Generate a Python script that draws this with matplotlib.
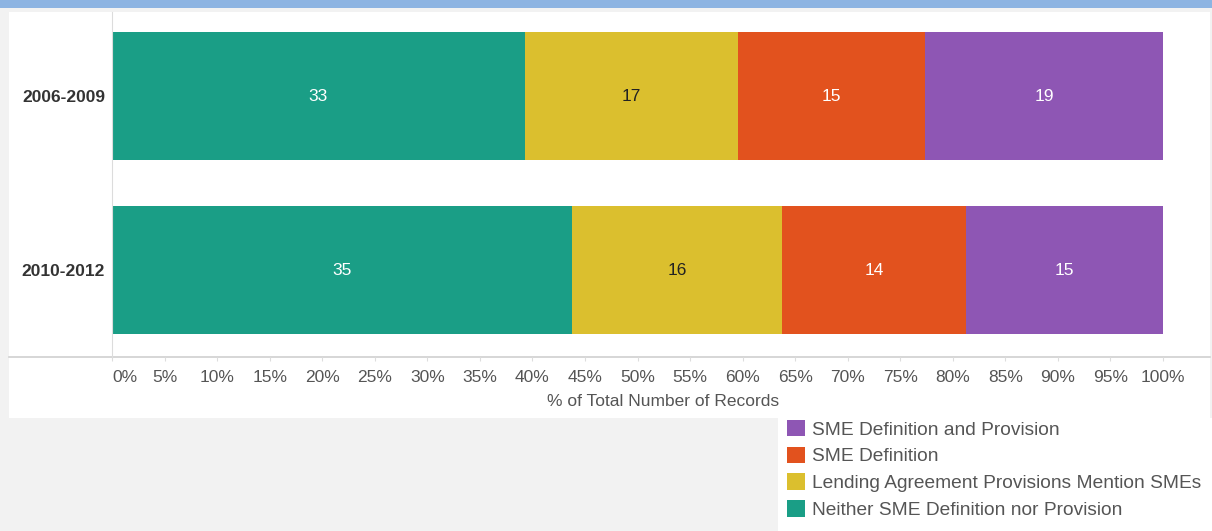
import matplotlib.pyplot as plt
from matplotlib.patches import Rectangle, Patch
from matplotlib.lines import Line2D
import numpy as np

plt.rcParams['font.family'] = ['Liberation Sans', 'DejaVu Sans']

periods = ["2006-2009", "2010-2012"]
categories = ["Neither SME Definition nor Provision",
              "Lending Agreement Provisions Mention SMEs",
              "SME Definition",
              "SME Definition and Provision"]
counts = {
    "Neither SME Definition nor Provision": [33, 35],
    "Lending Agreement Provisions Mention SMEs": [17, 16],
    "SME Definition": [15, 14],
    "SME Definition and Provision": [19, 15],
}
colors = ["#1a9e86", "#dbbf2e", "#e2521e", "#8e56b4"]
text_colors = ["white", "#222222", "white", "white"]
xticks = list(range(0, 101, 5))

W, H = 1212, 531
fig = plt.figure(figsize=(W / 100, H / 100), dpi=100, facecolor="#f2f2f2")

def fx(px):
    return px / W

def fy(py):
    return 1 - py / H

# background panels (behind the axes)
fig.patches.append(Rectangle((0, fy(8)), 1, 8 / H, transform=fig.transFigure,
                             facecolor="#8db4e2", edgecolor="none", zorder=-2))
fig.patches.append(Rectangle((fx(9), fy(418)), fx(1210 - 9), (418 - 12) / H,
                             transform=fig.transFigure, facecolor="white",
                             edgecolor="none", zorder=-2))
fig.patches.append(Rectangle((fx(778), 0), fx(W - 778), (531 - 418) / H,
                             transform=fig.transFigure, facecolor="white",
                             edgecolor="none", zorder=-2))
fig.lines.append(Line2D([fx(9), fx(1210)], [fy(357), fy(357)],
                        transform=fig.transFigure, color="#d0d0d0", lw=1.2,
                        zorder=-1))

ax = fig.add_axes([fx(112), fy(357), fx(1163 - 112), (357 - 12) / H])
ax.set_facecolor("none")

totals = np.sum([counts[c] for c in categories], axis=0)
y = np.arange(len(periods))
left = np.zeros(len(periods))
for cat, col, tcol in zip(categories, colors, text_colors):
    vals = np.array(counts[cat])
    pct = vals / totals * 100
    ax.barh(y, pct, left=left, height=0.74, color=col, label=cat)
    for yi, l, p, v in zip(y, left, pct, vals):
        ax.text(l + p / 2, yi, str(v), ha="center", va="center",
                color=tcol, fontsize=12.5)
    left = left + pct

ax.set_xlim(0, 100)
ax.set_ylim(1.5, -0.483)
ax.set_yticks(y)
ax.set_yticklabels(periods, fontsize=12.5, fontweight="bold", color="#333333")
ax.set_xticks(xticks)
ax.set_xticklabels([f"{t}%" for t in xticks], fontsize=12.5, color="#555555")
ax.tick_params(axis="y", length=0, pad=5)
ax.tick_params(axis="x", length=3, color="#dddddd", pad=6)
labels = ax.get_xticklabels()
labels[0].set_ha("left")
for s in ["top", "right", "bottom"]:
    ax.spines[s].set_visible(False)
ax.spines["left"].set_color("#dcdcdc")

fig.text(fx(663), fy(401), "% of Total Number of Records", ha="center",
         va="center", fontsize=12.5, color="#555555")

handles = [Patch(facecolor=c, edgecolor="none") for c in colors][::-1]
fig.legend(handles, categories[::-1], loc="upper left",
           bbox_to_anchor=(fx(779), fy(412)), frameon=False, fontsize=13.8,
           handlelength=0.95, handleheight=0.95, handletextpad=0.35,
           labelspacing=0.42, borderaxespad=0, labelcolor="#555555")

fig.savefig("out.png", dpi=100, facecolor=fig.get_facecolor())
